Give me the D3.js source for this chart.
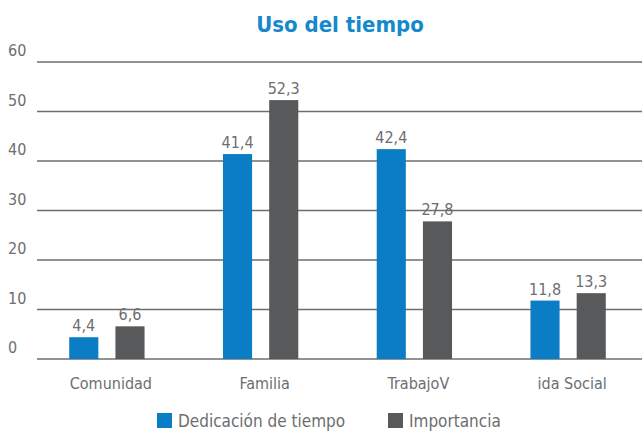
<!DOCTYPE html>
<html>
<head>
<meta charset="utf-8">
<script src="https://cdn.jsdelivr.net/npm/d3@7"></script>
<style>
  body { margin: 0; background: #fff; }
  text { font-family: "Liberation Sans Narrow", "DejaVu Sans Condensed", "DejaVu Sans", sans-serif; font-stretch: condensed; }
</style>
</head>
<body>
<div id="wrapper"></div>
<script>
// Data
const categories = ['Comunidad', 'Familia', 'TrabajoV', 'ida Social']
const seriesNames = ['Dedicación de tiempo', 'Importancia']
const dedicacion = [4.4, 41.4, 42.4, 11.8]
const importancia = [6.6, 52.3, 27.8, 13.3]
const yTicks = [0, 10, 20, 30, 40, 50, 60]
const colors = ['#0b7dc5', '#58595b']

const dataset = categories.map((c, i) => ({
  category: c,
  values: [dedicacion[i], importancia[i]],
}))

const width = 642
const height = 431

const wrapper = d3.select('#wrapper')
  .append('svg')
  .attr('width', width)
  .attr('height', height)

// Scales
const yScale = d3.scaleLinear().domain([0, 60]).range([359, 62])

const x0 = d3.scaleBand()
  .domain(categories)
  .range([30, 645])
  .paddingInner(0.51)
  .paddingOuter(0.255)

const x1 = d3.scaleBand()
  .domain(d3.range(seriesNames.length))
  .range([0, x0.bandwidth()])
  .paddingInner(0.37)

// Title
wrapper.append('text')
  .attr('x', 340)
  .attr('y', 32)
  .attr('text-anchor', 'middle')
  .attr('fill', '#1689cc')
  .style('font-size', '22px')
  .style('font-weight', 'bold')
  .text('Uso del tiempo')

// Grid + y labels
const grid = wrapper.append('g')
grid.selectAll('line')
  .data(yTicks)
  .enter().append('line')
  .attr('x1', 37)
  .attr('x2', width)
  .attr('y1', d => yScale(d))
  .attr('y2', d => yScale(d))
  .attr('stroke', '#6d6e70')
  .attr('stroke-width', 1.4)

grid.selectAll('text')
  .data(yTicks)
  .enter().append('text')
  .attr('x', 8)
  .attr('y', d => yScale(d) - 6)
  .attr('fill', '#6d6e70')
  .style('font-size', '16px')
  .text(d => d)

// Bars
const groups = wrapper.selectAll('.group')
  .data(dataset)
  .enter().append('g')
  .attr('class', 'group')
  .attr('transform', d => `translate(${x0(d.category)},0)`)

groups.selectAll('rect')
  .data(d => d.values)
  .enter().append('rect')
  .attr('x', (d, i) => x1(i))
  .attr('width', x1.bandwidth())
  .attr('y', d => yScale(d))
  .attr('height', d => yScale(0) - yScale(d))
  .attr('fill', (d, i) => colors[i])

groups.selectAll('.value')
  .data(d => d.values)
  .enter().append('text')
  .attr('class', 'value')
  .attr('x', (d, i) => x1(i) + x1.bandwidth() / 2)
  .attr('y', d => yScale(d) - 6)
  .attr('text-anchor', 'middle')
  .attr('fill', '#6d6e70')
  .style('font-size', '16px')
  .text(d => d3.format('.1f')(d).replace('.', ','))

// Category labels
wrapper.selectAll('.cat')
  .data(categories)
  .enter().append('text')
  .attr('class', 'cat')
  .attr('x', d => x0(d) + x0.bandwidth() / 2 + 4)
  .attr('y', 389)
  .attr('text-anchor', 'middle')
  .attr('fill', '#6d6e70')
  .style('font-size', '16px')
  .text(d => d)

// Legend
const legendX = [157, 388]
const legend = wrapper.selectAll('.legend')
  .data(seriesNames)
  .enter().append('g')
  .attr('class', 'legend')
  .attr('transform', (d, i) => `translate(${legendX[i]},413)`)

legend.append('rect')
  .attr('width', 15)
  .attr('height', 15)
  .attr('fill', (d, i) => colors[i])

legend.append('text')
  .attr('x', 21)
  .attr('y', 14)
  .attr('fill', '#6d6e70')
  .style('font-size', '17px')
  .text(d => d)
</script>
</body>
</html>
